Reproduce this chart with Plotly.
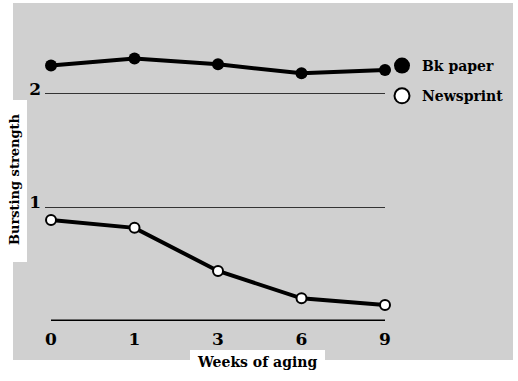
import plotly.graph_objects as go

weeks = ["0", "1", "3", "6", "9"]
bk_paper = [2.25, 2.31, 2.26, 2.18, 2.21]
newsprint = [0.89, 0.82, 0.44, 0.20, 0.14]
y_ticks = [1, 2]

W, H = 518, 381
L, R, T, B = 45, 133, 37, 60
PW, PH = W - L - R, H - T - B
FONT = "DejaVu Serif"
GRAY = "#d0d0d0"

def px(x):
    return (x - L) / PW

def py(y):
    return (H - B - y) / PH

fig = go.Figure()

fig.add_trace(go.Scatter(
    x=weeks, y=bk_paper, mode="lines+markers", showlegend=False,
    line=dict(color="black", width=4),
    marker=dict(size=12, color="black"), cliponaxis=False))
fig.add_trace(go.Scatter(
    x=weeks, y=newsprint, mode="lines+markers", showlegend=False,
    line=dict(color="black", width=4),
    marker=dict(size=10, color="white", line=dict(color="black", width=2)),
    cliponaxis=False))
# legend entries
fig.add_trace(go.Scatter(
    x=[None], y=[None], mode="markers", name="Bk paper", legendgroup="a",
    marker=dict(size=16, color="black")))
fig.add_trace(go.Scatter(
    x=[None], y=[None], mode="markers", name="Newsprint", legendgroup="b",
    marker=dict(size=15, color="white", line=dict(color="black", width=2))))

shapes = [
    dict(type="rect", xref="paper", yref="paper", x0=px(13), x1=px(513),
         y0=py(360), y1=py(3), fillcolor=GRAY, line=dict(width=0), layer="below"),
    dict(type="rect", xref="paper", yref="paper", x0=px(0), x1=px(27),
         y0=py(262), y1=py(100), fillcolor="white", line=dict(width=0), layer="below"),
    dict(type="rect", xref="paper", yref="paper", x0=px(190), x1=px(325),
         y0=py(381), y1=py(350), fillcolor="white", line=dict(width=0), layer="below"),
    dict(type="line", xref="x", yref="y", x0=0, x1=len(weeks) - 1, y0=0, y1=0,
         line=dict(color="black", width=3), layer="above"),
]

fig.update_layout(
    width=W, height=H,
    margin=dict(l=L, r=R, t=T, b=B, autoexpand=False),
    paper_bgcolor="white", plot_bgcolor="rgba(0,0,0,0)",
    font=dict(family=FONT, color="black", size=16),
    shapes=shapes,
    showlegend=True,
    legend=dict(x=px(382), y=py(50), xanchor="left", yanchor="top",
                bgcolor="rgba(0,0,0,0)", font=dict(family=FONT, size=14, weight=600),
                tracegroupgap=9, itemwidth=30),
    annotations=[
        dict(text="Weeks of aging", xref="paper", yref="paper",
             x=px(257), y=py(362), showarrow=False, xanchor="center",
             yanchor="middle", font=dict(family=FONT, size=14, weight=600)),
        dict(text="Bursting strength", xref="paper", yref="paper",
             x=px(14), y=py(179), showarrow=False, xanchor="center",
             yanchor="middle", textangle=-90, font=dict(family=FONT, size=13, weight=600)),
    ],
)
fig.update_xaxes(type="category", range=[-0.072, len(weeks) - 1],
                 showgrid=False, zeroline=False, showline=False,
                 ticks="", ticklabelstandoff=6,
                 tickfont=dict(family=FONT, size=17, weight=600))
fig.update_yaxes(range=[0, 2.5], tickvals=y_ticks, ticktext=[str(v) for v in y_ticks],
                 showgrid=True, gridcolor="#333333", gridwidth=1.3,
                 zeroline=False, showline=False, ticks="", ticklabelshift=-5,
                 ticklabelstandoff=3, tickfont=dict(family=FONT, size=17, weight=600))

fig.write_html("out.html", config={"displayModeBar": False},
               post_script="document.body.style.margin='0';")
